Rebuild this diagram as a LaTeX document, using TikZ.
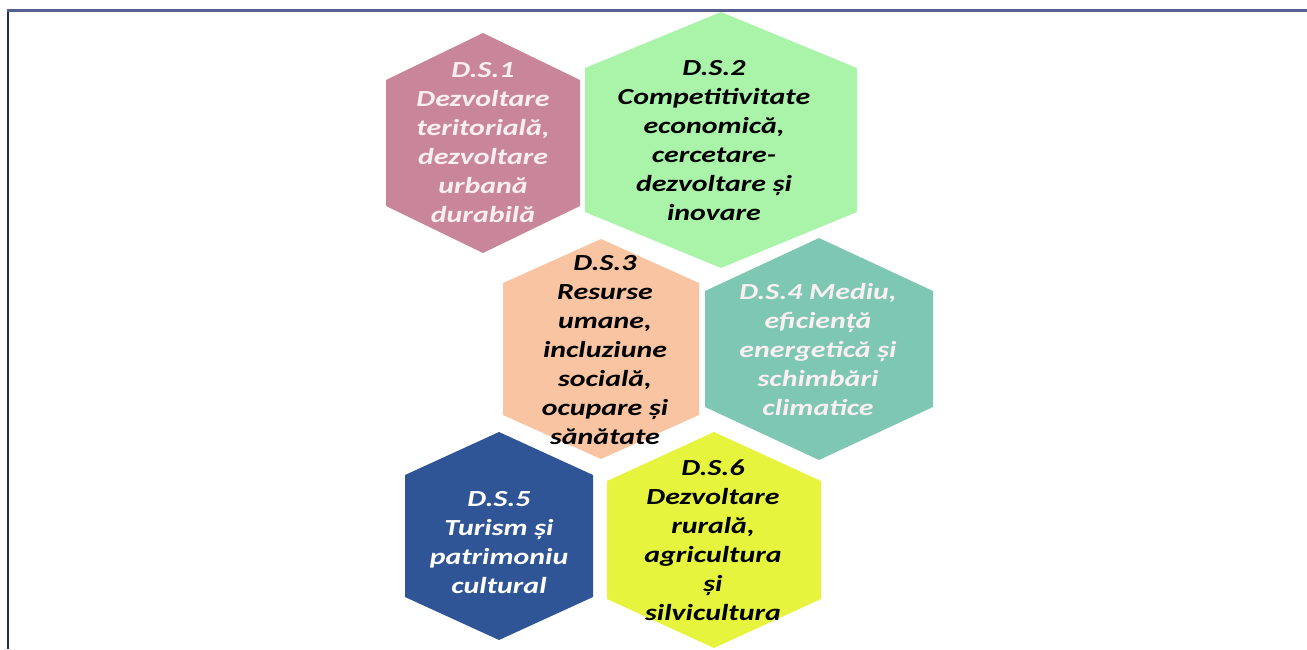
\documentclass[tikz,border=0pt]{standalone}
\usepackage{fontspec}
\setmainfont{Carlito}[FakeStretch=1.3]
\definecolor{dsone}{HTML}{C9869A}
\definecolor{dstwo}{HTML}{A9F4A9}
\definecolor{dsthree}{HTML}{F8C4A2}
\definecolor{dsfour}{HTML}{7DC7B3}
\definecolor{dsfive}{HTML}{2F5597}
\definecolor{dssix}{HTML}{E6F43E}
\definecolor{lighttxt}{HTML}{FBEFF2}
\definecolor{frametop}{HTML}{56608F}
\definecolor{frameleft}{HTML}{1E2D55}
\tikzset{
  hexlabel/.style={align=center, inner sep=0pt,
    font=\fontsize{23}{29}\selectfont\bfseries\itshape}
}
\begin{document}
\begin{tikzpicture}[x=1pt, y=-1pt]
  \useasboundingbox (0,0) rectangle (1307,649);
  % frame
  \draw[frameleft, line width=2.5pt] (8,649) -- (8,10.5);
  \draw[frametop, line width=2.5pt] (6.75,10.5) -- (1307,10.5);
  % hexagons
  \fill[dsone] (483,33) -- (580,80) -- (580,206) -- (483,253) -- (386,206) -- (386,80) -- cycle;
  \fill[dstwo] (721,12) -- (857,68) -- (857,212) -- (721,268) -- (585,212) -- (585,68) -- cycle;
  \fill[dsthree] (601,239) -- (699,283) -- (699,415) -- (601,459) -- (503,415) -- (503,283) -- cycle;
  \fill[dsfour] (819,238) -- (933,291) -- (933,407) -- (819,460) -- (705,407) -- (705,291) -- cycle;
  \fill[dsfive] (499,432) -- (593,475) -- (593,597) -- (499,640) -- (405,597) -- (405,475) -- cycle;
  \fill[dssix] (714,432) -- (821,481) -- (821,599) -- (714,648) -- (607,599) -- (607,481) -- cycle;
  % labels
  \node[hexlabel, text=lighttxt] (ds1) at (483,143) {D.S.1\\Dezvoltare\\teritorială,\\dezvoltare\\urbană\\durabilă};
  \node[hexlabel] (ds2) at (714,141) {D.S.2\\Competitivitate\\economică,\\cercetare-\\dezvoltare și\\inovare};
  \node[hexlabel] (ds3) at (605,350) {D.S.3\\Resurse\\umane,\\incluziune\\socială,\\ocupare și\\sănătate};
  \node[hexlabel, text=lighttxt] (ds4) at (818,350) {D.S.4 Mediu,\\eficiență\\energetică și\\schimbări\\climatice};
  \node[hexlabel, text=white] (ds5) at (499,543) {D.S.5\\Turism și\\patrimoniu\\cultural};
  \node[hexlabel] (ds6) at (713,540) {D.S.6\\Dezvoltare\\rurală,\\agricultura\\și\\silvicultura};
\end{tikzpicture}
\end{document}
